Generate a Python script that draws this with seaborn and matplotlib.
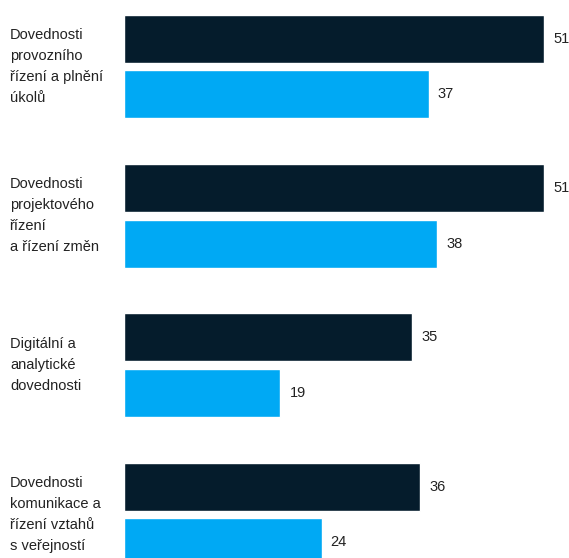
import pandas as pd
import matplotlib
matplotlib.use("Agg")
import matplotlib.pyplot as plt
import matplotlib.transforms as mtransforms
import seaborn as sns

# Data
categories = [
    "Dovednosti\nprovozního\nřízení a plnění\núkolů",
    "Dovednosti\nprojektového\nřízení\na řízení změn",
    "Digitální a\nanalytické\ndovednosti",
    "Dovednosti\nkomunikace a\nřízení vztahů\ns veřejností",
]
series_names = ["Série 1", "Série 2"]
values_dark = [51, 51, 35, 36]
values_light = [37, 38, 19, 24]
colors = ["#051C2C", "#00A9F4"]

df = pd.DataFrame({
    "kategorie": categories * 2,
    "serie": [series_names[0]] * len(categories) + [series_names[1]] * len(categories),
    "hodnota": values_dark + values_light,
})

sns.set_theme(style="white")
plt.rcParams["font.family"] = ["Liberation Sans", "DejaVu Sans"]

W, H = 569, 558
fig = plt.figure(figsize=(W / 100, H / 100), dpi=100)
ax = fig.add_axes([124 / W, 0, (544 - 124) / W, 1])

sns.barplot(
    data=df, x="hodnota", y="kategorie", hue="serie", orient="h",
    palette=colors, width=0.744, gap=0.136, legend=False, ax=ax,
    saturation=1,
)

ax.set_xlim(0, 51)
ax.set_ylim(3.292, -0.445)
ax.set_xticks([])
ax.set_yticks([])
ax.set_xlabel("")
ax.set_ylabel("")
sns.despine(ax=ax, left=True, bottom=True)

for cont in ax.containers:
    ax.bar_label(cont, fmt="%d", padding=6.5, fontsize=10.5, color="#222222")

trans = mtransforms.blended_transform_factory(fig.transFigure, ax.transData)
for i, lab in enumerate(categories):
    ax.text(10 / W, i, lab, transform=trans, ha="left", va="center",
            fontsize=10.5, color="#222222", linespacing=1.65)

fig.savefig("out.png", dpi=100)
